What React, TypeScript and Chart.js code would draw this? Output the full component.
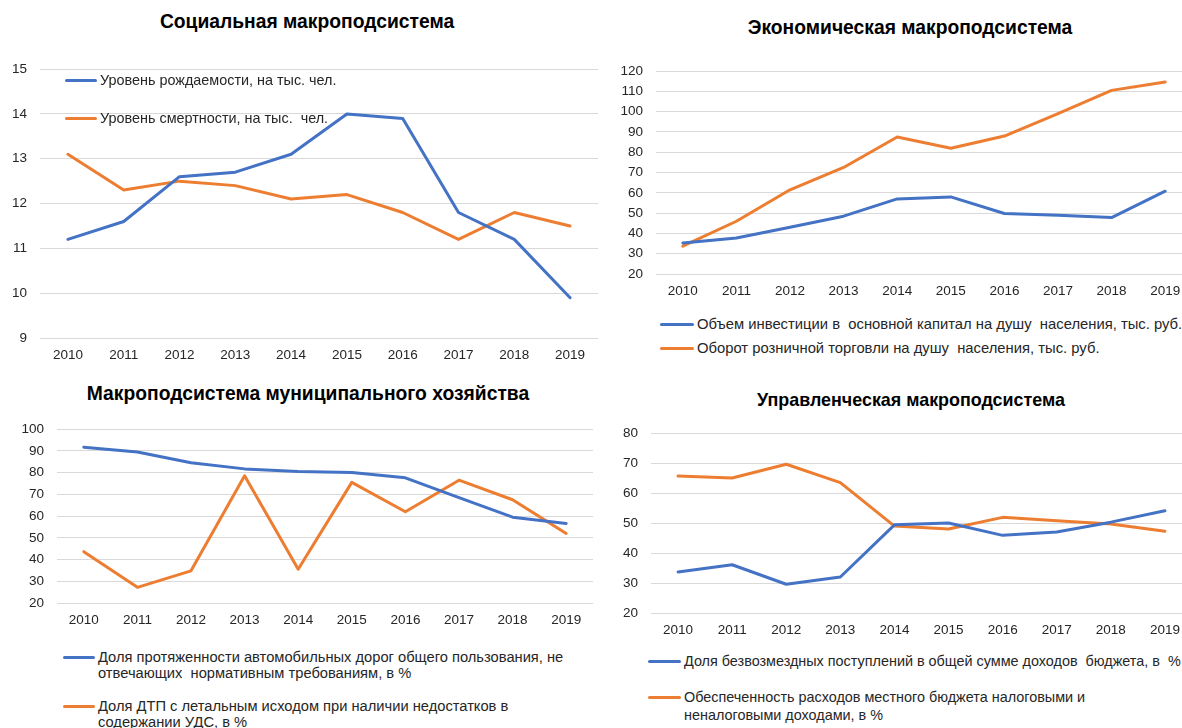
import React, { useEffect, useRef } from "react";
import { Chart, registerables } from "chart.js";

Chart.register(...registerables);

const YEARS = ["2010", "2011", "2012", "2013", "2014", "2015", "2016", "2017", "2018", "2019"];

const BIRTH_RATE = [11.2, 11.6, 12.6, 12.7, 13.1, 14.0, 13.9, 11.8, 11.2, 9.9];
const DEATH_RATE = [13.1, 12.3, 12.5, 12.4, 12.1, 12.2, 11.8, 11.2, 11.8, 11.5];

const INVESTMENT = [35.3, 37.7, 43, 48.5, 57, 58, 49.8, 49, 47.8, 60.8];
const RETAIL = [33.7, 46, 61.5, 72.5, 87.5, 82, 88, 99, 110.5, 114.6];

const ROADS = [91.7, 89.5, 84.5, 81.7, 80.5, 80, 77.6, 68.5, 59.5, 56.6];
const ACCIDENTS = [43.6, 27.2, 34.8, 78.5, 35.5, 75.5, 62, 76.5, 67.5, 52];

const TRANSFERS = [33.7, 36.1, 29.6, 32, 49.4, 50, 45.9, 47, 50.3, 54.1];
const OWN_REVENUE = [65.7, 65, 69.6, 63.5, 49, 48, 51.9, 50.8, 49.7, 47.3];

const TITLES = [
  "Социальная макроподсистема",
  "Экономическая макроподсистема",
  "Макроподсистема муниципального хозяйства",
  "Управленческая макроподсистема",
];

const LEGEND_LABELS = [
  ["Уровень рождаемости, на тыс. чел.", "Уровень смертности, на тыс.  чел."],
  ["Объем инвестиции в  основной капитал на душу  населения, тыс. руб.", "Оборот розничной торговли на душу  населения, тыс. руб."],
  [
    "Доля протяженности автомобильных дорог общего пользования, не\nотвечающих  нормативным требованиям, в %",
    "Доля ДТП с летальным исходом при наличии недостатков в\nсодержании УДС, в %",
  ],
  [
    "Доля безвозмездных поступлений в общей сумме доходов  бюджета, в  %",
    "Обеспеченность расходов местного бюджета налоговыми и\nненалоговыми доходами, в %",
  ],
];

const BLUE = "#4472C4";
const ORANGE = "#ED7D31";
const FONT = "'Liberation Sans', Arial, sans-serif";
const TEXT = "#262626";

type PanelCfg = {
  left: number;
  top: number;
  width: number;
  height: number;
  yWidth: number;
  xHeight: number;
  min: number;
  max: number;
  step: number;
  a: number[];
  b: number[];
};

function LineChart({ cfg }: { cfg: PanelCfg }) {
  const ref = useRef<HTMLCanvasElement | null>(null);
  useEffect(() => {
    if (!ref.current) return;
    const chart = new Chart(ref.current, {
      type: "line",
      data: {
        labels: YEARS,
        datasets: [
          { data: cfg.a, borderColor: BLUE, backgroundColor: BLUE, borderWidth: 3, pointRadius: 0, tension: 0, borderCapStyle: "round", borderJoinStyle: "round" },
          { data: cfg.b, borderColor: ORANGE, backgroundColor: ORANGE, borderWidth: 3, pointRadius: 0, tension: 0, borderCapStyle: "round", borderJoinStyle: "round" },
        ],
      },
      options: {
        responsive: false,
        animation: false,
        layout: { padding: { top: 10, right: 2, left: 0, bottom: 0 } },
        plugins: { legend: { display: false }, title: { display: false }, tooltip: { enabled: false } },
        scales: {
          x: {
            type: "category",
            offset: true,
            grid: { display: false, drawTicks: false },
            border: { display: false },
            ticks: { color: TEXT, font: { family: FONT, size: 13.5 }, padding: 9, maxRotation: 0, autoSkip: false },
            afterFit: (s: any) => { s.height = cfg.xHeight; },
          },
          y: {
            min: cfg.min,
            max: cfg.max,
            grid: { color: "#d9d9d9", lineWidth: 1, drawTicks: false },
            border: { display: false },
            ticks: { stepSize: cfg.step, color: TEXT, font: { family: FONT, size: 13.5 }, padding: 13 },
            afterFit: (s: any) => { s.width = cfg.yWidth; },
          },
        },
      },
    });
    return () => chart.destroy();
  }, [cfg]);
  return (
    <canvas
      ref={ref}
      width={cfg.width}
      height={cfg.height}
      style={{ position: "absolute", left: cfg.left, top: cfg.top, width: cfg.width, height: cfg.height }}
    />
  );
}

const PANELS: PanelCfg[] = [
  { left: 0, top: 48, width: 600, height: 320, yWidth: 40, xHeight: 30, min: 9, max: 15, step: 1, a: BIRTH_RATE, b: DEATH_RATE },
  { left: 600, top: 50, width: 594, height: 254, yWidth: 56, xHeight: 30, min: 20, max: 120, step: 10, a: INVESTMENT, b: RETAIL },
  { left: 0, top: 408, width: 595, height: 223, yWidth: 57, xHeight: 28, min: 20, max: 100, step: 10, a: ROADS, b: ACCIDENTS },
  { left: 600, top: 412, width: 594, height: 229, yWidth: 51, xHeight: 28, min: 20, max: 80, step: 10, a: TRANSFERS, b: OWN_REVENUE },
];

const TITLE_POS = [
  { x: 307, y: 22, fs: 19.3 },
  { x: 910, y: 28, fs: 19.3 },
  { x: 308, y: 394, fs: 19.3 },
  { x: 911, y: 400, fs: 17.9 },
];

// legend: line sample start x, text x, y of first-line centre for each item, line height, font size
const LEGEND_POS = [
  { lx: 65, tx: 100, ys: [80, 118], lh: 16, fs: 14.4 },
  { lx: 660, tx: 697, ys: [324, 348], lh: 16, fs: 14.8 },
  { lx: 63, tx: 98, ys: [657, 706], lh: 16, fs: 14.7 },
  { lx: 648, tx: 684, ys: [661, 697], lh: 18, fs: 14.4 },
];

function Legend({ idx }: { idx: number }) {
  const p = LEGEND_POS[idx];
  const labels = LEGEND_LABELS[idx];
  const colors = [BLUE, ORANGE];
  return (
    <>
      {labels.map((lab, i) => (
        <React.Fragment key={i}>
          <div
            style={{
              position: "absolute",
              left: p.lx,
              top: p.ys[i] - 1.5,
              width: p.tx - p.lx - 3,
              height: 3,
              background: colors[i],
              borderRadius: 1.5,
            }}
          />
          <div
            style={{
              position: "absolute",
              left: p.tx,
              top: p.ys[i] - p.lh / 2,
              fontFamily: FONT,
              fontSize: p.fs,
              lineHeight: p.lh + "px",
              color: TEXT,
              whiteSpace: "pre",
            }}
          >
            {lab}
          </div>
        </React.Fragment>
      ))}
    </>
  );
}

export default function App() {
  return (
    <div
      style={{
        position: "fixed",
        left: 0,
        top: 0,
        width: 1182,
        height: 728,
        overflow: "hidden",
        background: "#ffffff",
      }}
    >
      {PANELS.map((cfg, i) => (
        <LineChart key={i} cfg={cfg} />
      ))}
      {TITLES.map((t, i) => (
        <div
          key={i}
          style={{
            position: "absolute",
            left: TITLE_POS[i].x,
            top: TITLE_POS[i].y,
            transform: "translate(-50%, -50%)",
            fontFamily: FONT,
            fontWeight: "bold",
            fontSize: TITLE_POS[i].fs,
            color: "#000",
            whiteSpace: "nowrap",
          }}
        >
          {t}
        </div>
      ))}
      {[0, 1, 2, 3].map((i) => (
        <Legend key={i} idx={i} />
      ))}
    </div>
  );
}
